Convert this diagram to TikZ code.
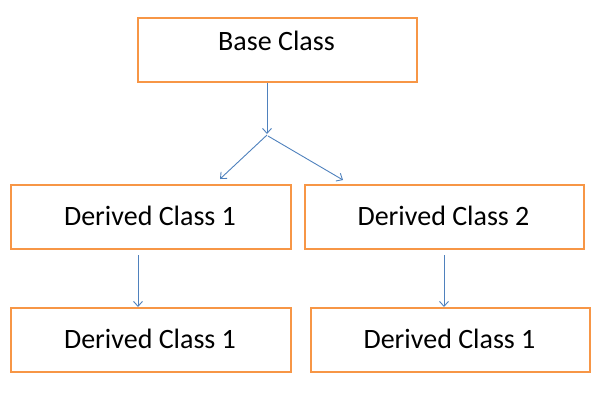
\documentclass[tikz,border=0pt]{standalone}
\usepackage{fontspec}
\setmainfont{Carlito}
\usetikzlibrary{arrows.meta}
\definecolor{boxorange}{HTML}{F79646}
\definecolor{arrowblue}{HTML}{4F81BD}
\begin{document}
\begin{tikzpicture}[x=1pt,y=-1pt,
  classbox/.style={draw=boxorange,line width=2pt,minimum width=#1,minimum height=64pt,inner sep=0pt,anchor=north west},
  classbox/.default=279pt,
  lbl/.style={font=\fontsize{28}{32}\selectfont,inner sep=0pt},
  conn/.style={draw=arrowblue,line width=0.9pt,-{Straight Barb[length=5pt,width=9pt]}}]
\useasboundingbox (0,0) rectangle (600,400);
\node[classbox] (base) at (137,17) {};
\node[lbl] (tbase) at (276.5,41) {Base Class};
\node[classbox=280pt] (d1) at (10,184) {};
\node[lbl] (td1) at (150,216) {Derived Class 1};
\node[classbox] (d2) at (304,184) {};
\node[lbl] (td2) at (443.5,216) {Derived Class 2};
\node[classbox=280pt] (e1) at (10,307) {};
\node[lbl] (te1) at (150,339) {Derived Class 1};
\node[classbox] (e2) at (310,307) {};
\node[lbl] (te2) at (449.5,339) {Derived Class 1};
\coordinate (j) at (267,134);
\coordinate (jl) at (267,135);
\coordinate (jr) at (268,136);
\coordinate (l) at (220,179);
\coordinate (r) at (343,180);
\coordinate (a1) at (138,255);
\coordinate (b1) at (138,307);
\coordinate (a2) at (444,255);
\coordinate (b2) at (444,307);
\draw[conn] (base.south -| j) -- (j);
\draw[conn] (jl) -- (l);
\draw[conn] (jr) -- (r);
\draw[conn] (a1) -- (b1);
\draw[conn] (a2) -- (b2);
\end{tikzpicture}
\end{document}
